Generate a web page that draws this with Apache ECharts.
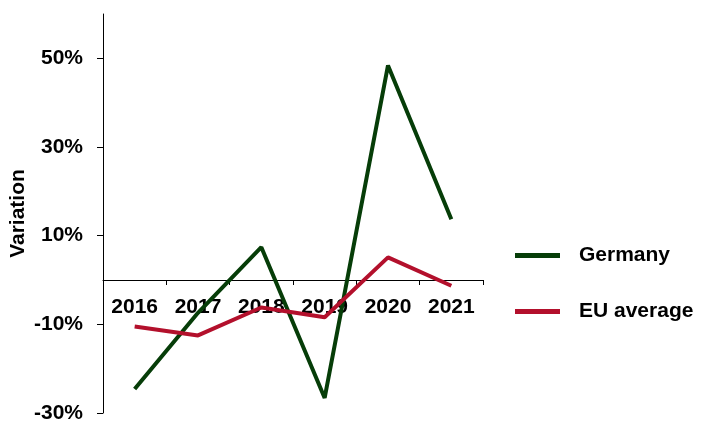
<!DOCTYPE html>
<html><head><meta charset="utf-8">
<script src="https://cdn.jsdelivr.net/npm/echarts@6/dist/echarts.min.js"></script>
<style>html,body{margin:0;padding:0;background:#fff}#c{width:706px;height:424px}</style>
</head><body><div id="c"></div>
<script>
const categories = ['2016','2017','2018','2019','2020','2021'];
const germany = [-24.6, -7.4, 7.4, -26.6, 48.4, 13.7];
const euAverage = [-10.5, -12.5, -6.2, -8.4, 5.1, -1.3];
const yTicks = [-30, -10, 10, 30, 50];

const font = '"Liberation Sans", Arial, sans-serif';
const gridTop = 14, gridBottom = 11, yMin = -30, yMax = 60;
const plotH = 424 - gridTop - gridBottom;
const zeroOffset = -plotH * (0 - yMin) / (yMax - yMin);
const chart = echarts.init(document.getElementById('c'));
chart.setOption({
  animation: false,
  grid: {left: 103, right: 223, top: gridTop, bottom: gridBottom, containLabel: false, outerBoundsMode: 'none'},
  legend: {
    orient: 'vertical', left: 510, top: 240,
    itemWidth: 45, itemHeight: 5, itemGap: 35, icon: 'rect',
    textStyle: {fontFamily: font, fontWeight: 'bold', fontSize: 21, color: '#000', padding: [0,0,0,14]},
    data: ['Germany', 'EU average']
  },
  xAxis: {
    type: 'category', data: categories, boundaryGap: true,
    position: 'bottom', offset: zeroOffset,
    axisLine: {onZero: false, lineStyle: {color: '#000', width: 1}},
    axisTick: {show: true, length: 5, lineStyle: {color: '#000'}},
    axisLabel: {fontFamily: font, fontWeight: 'bold', fontSize: 21, color: '#000', margin: 17}
  },
  yAxis: {
    type: 'value', min: yMin, max: yMax,
    name: 'Variation', nameLocation: 'middle', nameGap: 74, nameRotate: 90, nameMoveOverlap: false,
    nameTextStyle: {fontFamily: font, fontWeight: 'bold', fontSize: 21, color: '#000'},
    splitLine: {show: false},
    axisLine: {show: true, lineStyle: {color: '#000', width: 1}},
    axisTick: {show: true, length: 6, customValues: yTicks, lineStyle: {color: '#000'}},
    axisLabel: {customValues: yTicks, fontFamily: font, fontWeight: 'bold', fontSize: 21, color: '#000', margin: 20,
      formatter: v => v + '%'}
  },
  series: [
    {name: 'Germany', type: 'line', data: germany, symbol: 'none', color: '#063d08',
     lineStyle: {width: 4, color: '#063d08'}},
    {name: 'EU average', type: 'line', data: euAverage, symbol: 'none', color: '#b3102c',
     lineStyle: {width: 4, color: '#b3102c'}}
  ]
});
</script></body></html>
